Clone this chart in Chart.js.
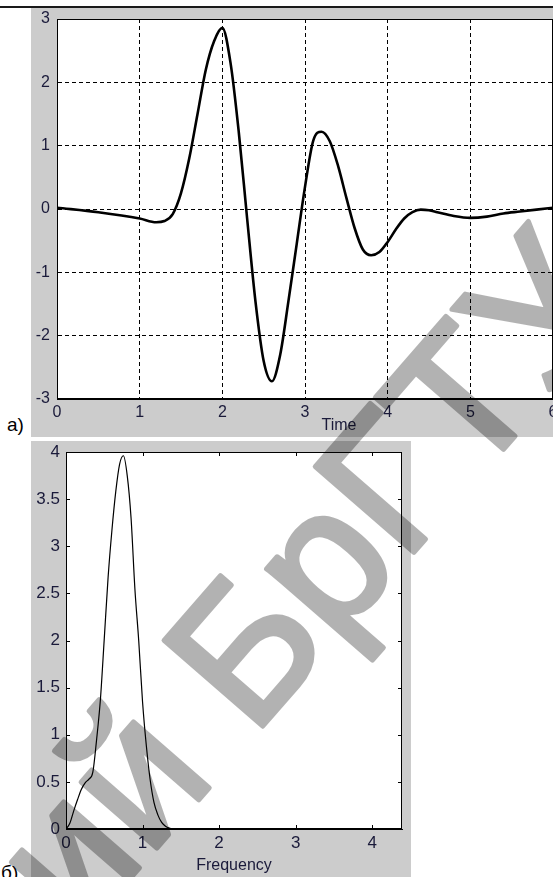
<!DOCTYPE html>
<html>
<head>
<meta charset="utf-8">
<script src="https://cdn.jsdelivr.net/npm/chart.js@4.4.1/dist/chart.umd.min.js"></script>
<style>
  html, body { margin: 0; padding: 0; background: #fff; }
  body { width: 553px; height: 877px; position: relative; overflow: hidden; font-family: "Liberation Sans", Arial, sans-serif; }
  .rule { position: absolute; left: 0; top: 6px; width: 553px; height: 2px; background: #1a1a1a; }
  .panel { position: absolute; background: #cccccc; }
  #panelA { left: 31px; top: 8px; width: 522px; height: 429px; }
  #panelB { left: 31px; top: 441px; width: 380px; height: 436px; }
  .panel canvas { position: absolute; left: 0; top: 0; }
  .lbl { position: absolute; font-size: 19px; line-height: 1; color: #000; }
  #timeLbl { position: absolute; left: 339px; top: 417px; transform: translateX(-50%); font-size: 16px; line-height: 1; color: #1a1a3a; }
  #wm { position: absolute; left: 0; top: 0; pointer-events: none; }
</style>
</head>
<body>
<div class="rule"></div>
<div class="panel" id="panelA"><canvas id="timeChart" width="522" height="429"></canvas></div>
<div class="panel" id="panelB"><canvas id="freqChart" width="380" height="436"></canvas></div>
<div class="lbl" style="left:7px; top:415px;">a)</div>
<div class="lbl" style="left:1px; top:863px;">б)</div>
<div id="timeLbl">Time</div>
<svg id="wm" width="553" height="877" viewBox="0 0 553 877">
  <g opacity="0.3" transform="translate(403.6,564.2) rotate(-49)">
    <text id="wmText" x="0" y="0" font-family="Liberation Sans, Arial, sans-serif" font-size="190" fill="#000" stroke="#000" stroke-width="5" stroke-linejoin="round">Репозиторий БрГТУ</text>
  </g>
</svg>
<script>
// a) signal in time
const timeX = [0, 0.5, 1.0, 1.2, 1.3, 1.4, 1.5, 1.6, 1.7, 1.8, 1.9, 2.0, 2.1, 2.2, 2.3, 2.4, 2.5, 2.6, 2.7, 2.8, 2.9, 3.0,
               3.1, 3.2, 3.3, 3.4, 3.5, 3.6, 3.7, 3.8, 3.9, 4.0, 4.1, 4.2, 4.3, 4.4, 4.5, 4.6, 4.8, 5.0, 5.2, 5.4, 5.6, 5.8, 6.0];
const timeY = [0.02, -0.05, -0.15, -0.21, -0.19, -0.08, 0.25, 0.8, 1.5, 2.2, 2.65, 2.86, 2.3, 1.2, -0.15, -1.45, -2.4, -2.72, -2.3, -1.45, -0.55, 0.35,
               1.08, 1.22, 1.07, 0.68, 0.18, -0.3, -0.64, -0.73, -0.68, -0.52, -0.32, -0.15, -0.05, -0.01, -0.02, -0.05, -0.11, -0.14, -0.12, -0.07, -0.04, -0.01, 0.02];
const timeXTicks = { min: 0, max: 6, step: 1 };
const timeYTicks = { min: -3, max: 3, step: 1 };

// б) spectrum
const freqX = [0, 0.05, 0.1, 0.15, 0.2, 0.25, 0.3, 0.35, 0.4, 0.45, 0.5, 0.55, 0.6, 0.65, 0.7, 0.75, 0.8, 0.85, 0.9, 0.95,
               1.0, 1.05, 1.1, 1.15, 1.2, 1.25, 1.3, 1.35, 1.4, 2.0, 3.0, 4.0, 4.39];
const freqY = [0, 0.06, 0.19, 0.31, 0.42, 0.49, 0.53, 0.6, 0.95, 1.38, 2.02, 2.67, 3.17, 3.58, 3.87, 3.96, 3.75, 3.3, 2.55, 2.0,
               1.35, 0.88, 0.52, 0.28, 0.15, 0.07, 0.03, 0.01, 0, 0, 0, 0, 0];
const freqXTicks = { min: 0, max: 4.39, step: 1 };
const freqYTicks = { min: 0, max: 4, step: 0.5 };

const tickColor = '#1a1a3a';
const fontFamily = '"Liberation Sans", Arial, sans-serif';

// white plot box, solid frame and optional inward ticks (matlab look)
const matlabFrame = {
    id: 'matlabFrame',
    beforeDraw(chart) {
        const { ctx, chartArea: a } = chart;
        ctx.save();
        ctx.fillStyle = '#fff';
        ctx.fillRect(a.left, a.top, a.right - a.left, a.bottom - a.top);
        ctx.restore();
    },
    afterDatasetsDraw(chart, args, opts) {
        const { ctx, chartArea: a, scales } = chart;
        ctx.save();
        ctx.strokeStyle = '#000';
        ctx.lineWidth = 1;
        ctx.setLineDash([]);
        ctx.strokeRect(Math.round(a.left) + 0.5, Math.round(a.top) + 0.5,
            Math.round(a.right - a.left) - 1, Math.round(a.bottom - a.top) - 1);
        const len = opts.tickLen || 0;
        if (len) {
            ctx.beginPath();
            scales.x.ticks.forEach(t => {
                const px = Math.round(scales.x.getPixelForValue(t.value)) + 0.5;
                ctx.moveTo(px, a.bottom); ctx.lineTo(px, a.bottom - len);
                ctx.moveTo(px, a.top); ctx.lineTo(px, a.top + len);
            });
            scales.y.ticks.forEach(t => {
                const py = Math.round(scales.y.getPixelForValue(t.value)) + 0.5;
                ctx.moveTo(a.left, py); ctx.lineTo(a.left + len, py);
                ctx.moveTo(a.right, py); ctx.lineTo(a.right - len, py);
            });
            ctx.stroke();
        }
        ctx.restore();
    }
};

function toPoints(xs, ys) {
    return xs.map((x, i) => ({ x: x, y: ys[i] }));
}

const fmt = v => String(v);

new Chart(document.getElementById('timeChart'), {
    type: 'line',
    data: {
        datasets: [{
            data: toPoints(timeX, timeY),
            borderColor: '#000',
            borderWidth: 2.6,
            pointRadius: 0,
            cubicInterpolationMode: 'monotone',
            fill: false
        }]
    },
    options: {
        responsive: false,
        animation: false,
        events: [],
        layout: { padding: { top: 11, right: 0, bottom: 0, left: 0 } },
        plugins: { legend: { display: false }, tooltip: { enabled: false }, matlabFrame: { tickLen: 0 } },
        scales: {
            x: {
                type: 'linear', min: timeXTicks.min, max: timeXTicks.max,
                ticks: { stepSize: timeXTicks.step, padding: 4, color: tickColor, font: { family: fontFamily, size: 16 }, maxRotation: 0, callback: fmt },
                grid: { color: '#000', lineWidth: 1, drawTicks: false },
                border: { display: true, color: '#000', width: 1, dash: [4, 3] },
                afterFit: s => { s.height = 38; s.paddingLeft = 0; s.paddingRight = 0; }
            },
            y: {
                type: 'linear', min: timeYTicks.min, max: timeYTicks.max,
                ticks: { stepSize: timeYTicks.step, padding: 7, color: tickColor, font: { family: fontFamily, size: 16 }, callback: fmt },
                grid: { color: '#000', lineWidth: 1, drawTicks: false },
                border: { display: true, color: '#000', width: 1, dash: [4, 3] },
                afterFit: s => { s.width = 26; s.paddingTop = 0; s.paddingBottom = 0; }
            }
        }
    },
    plugins: [matlabFrame]
});

new Chart(document.getElementById('freqChart'), {
    type: 'line',
    data: {
        datasets: [{
            data: toPoints(freqX, freqY),
            borderColor: '#000',
            borderWidth: 1.2,
            pointRadius: 0,
            cubicInterpolationMode: 'monotone',
            fill: false
        }]
    },
    options: {
        responsive: false,
        animation: false,
        events: [],
        layout: { padding: { top: 11, right: 9, bottom: 0, left: 0 } },
        plugins: { legend: { display: false }, tooltip: { enabled: false }, matlabFrame: { tickLen: 4 } },
        scales: {
            x: {
                type: 'linear', min: freqXTicks.min, max: freqXTicks.max,
                ticks: { stepSize: freqXTicks.step, includeBounds: false, padding: 4, color: tickColor, font: { family: fontFamily, size: 17 }, maxRotation: 0, callback: fmt },
                grid: { display: false, drawTicks: false },
                border: { display: true, color: '#000', width: 1 },
                title: { display: true, text: 'Frequency', color: tickColor, font: { family: fontFamily, size: 16 }, padding: { top: 0, bottom: 2 } },
                afterFit: s => { s.height = 48; s.paddingLeft = 0; s.paddingRight = 0; }
            },
            y: {
                type: 'linear', min: freqYTicks.min, max: freqYTicks.max,
                ticks: { stepSize: freqYTicks.step, padding: 6, color: tickColor, font: { family: fontFamily, size: 17 }, callback: fmt },
                grid: { display: false, drawTicks: false },
                border: { display: true, color: '#000', width: 1 },
                afterFit: s => { s.width = 35; s.paddingTop = 0; s.paddingBottom = 0; }
            }
        }
    },
    plugins: [matlabFrame]
});

// place watermark so that the "Г" sits where it is in the scan
const wm = document.getElementById('wmText');
const gIdx = wm.textContent.indexOf('Г');
const gPos = wm.getStartPositionOfChar(gIdx);
wm.setAttribute('x', (-gPos.x).toFixed(1));
</script>
</body>
</html>
